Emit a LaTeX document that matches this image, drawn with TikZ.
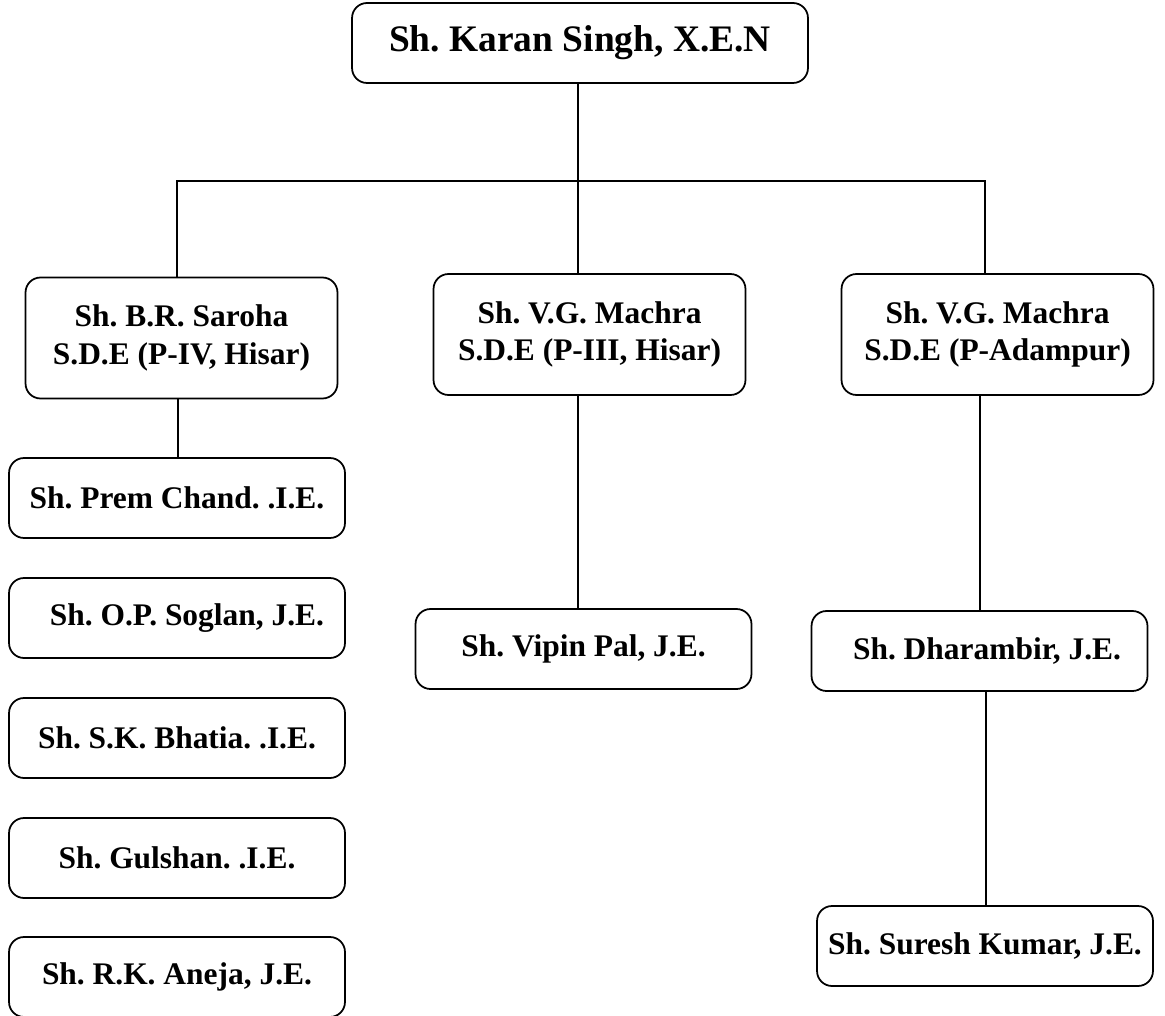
\documentclass[tikz,border=0pt]{standalone}
\usepackage{fontspec}
\setmainfont{Liberation Serif}
\usepackage{tikz}
\usetikzlibrary{positioning}
\frenchspacing

\tikzset{
  headbox/.style={draw,rounded corners=0.3cm,line width=1pt,minimum width=9.12cm,minimum height=1.6cm,inner sep=0pt,font=\fontsize{21.3}{25}\selectfont\bfseries},
  sdebox/.style={draw,rounded corners=0.3cm,line width=1pt,minimum width=6.24cm,minimum height=2.42cm,inner sep=0pt,align=center,font=\fontsize{17.9}{21.5}\selectfont\bfseries},
  jebox/.style={draw,rounded corners=0.3cm,line width=1pt,minimum width=6.72cm,minimum height=1.6cm,inner sep=0pt,font=\fontsize{17.9}{21.5}\selectfont\bfseries},
}

\begin{document}
\begin{tikzpicture}[x=0.02cm,y=-0.02cm,line width=1pt]
    \useasboundingbox (0,0) rectangle (1165,1016);

    \node[headbox] (xen) at (580,43) {Sh. Karan Singh, X.E.N};

    \node[sdebox] (sdeA) at (181.5,338) {Sh. B.R. Saroha\\S.D.E (P-IV, Hisar)};
    \node[sdebox] (sdeB) at (589.5,334.5) {Sh. V.G. Machra\\S.D.E (P-III, Hisar)};
    \node[sdebox] (sdeC) at (997.5,334.5) {Sh. V.G. Machra\\S.D.E (P-Adampur)};

    \node[jebox] (prem) at (177,498) {Sh. Prem Chand. .I.E.};
    \node[jebox] (soglan) at (177,618) {\hspace{0.4cm}Sh. O.P. Soglan, J.E.};
    \node[jebox] (bhatia) at (177,738) {Sh. S.K. Bhatia. .I.E.};
    \node[jebox] (gulshan) at (177,858) {Sh. Gulshan. .I.E.};
    \node[jebox] (aneja) at (177,977) {Sh. R.K. Aneja, J.E.};

    \node[jebox] (vipin) at (583.5,649) {Sh. Vipin Pal, J.E.};
    \node[jebox] (dharam) at (979.5,651) {\hspace{0.3cm}Sh. Dharambir, J.E.};
    \node[jebox] (suresh) at (985,946) {Sh. Suresh Kumar, J.E.};

    \coordinate (busL) at (177,181);
    \coordinate (busR) at (985,181);

    \draw (xen.south -| 578,0) -- (578,181);
    \draw (sdeA.north -| busL) -- (busL) -- (busR) -- (sdeC.north -| busR);
    \draw (578,181) -- (sdeB.north -| 578,0);

    \draw (sdeA.south -| 178,0) -- (prem.north -| 178,0);
    \draw (sdeB.south -| 578,0) -- (vipin.north -| 578,0);
    \draw (sdeC.south -| 980,0) -- (dharam.north -| 980,0);
    \draw (dharam.south -| 986,0) -- (suresh.north -| 986,0);

\end{tikzpicture}
\end{document}
